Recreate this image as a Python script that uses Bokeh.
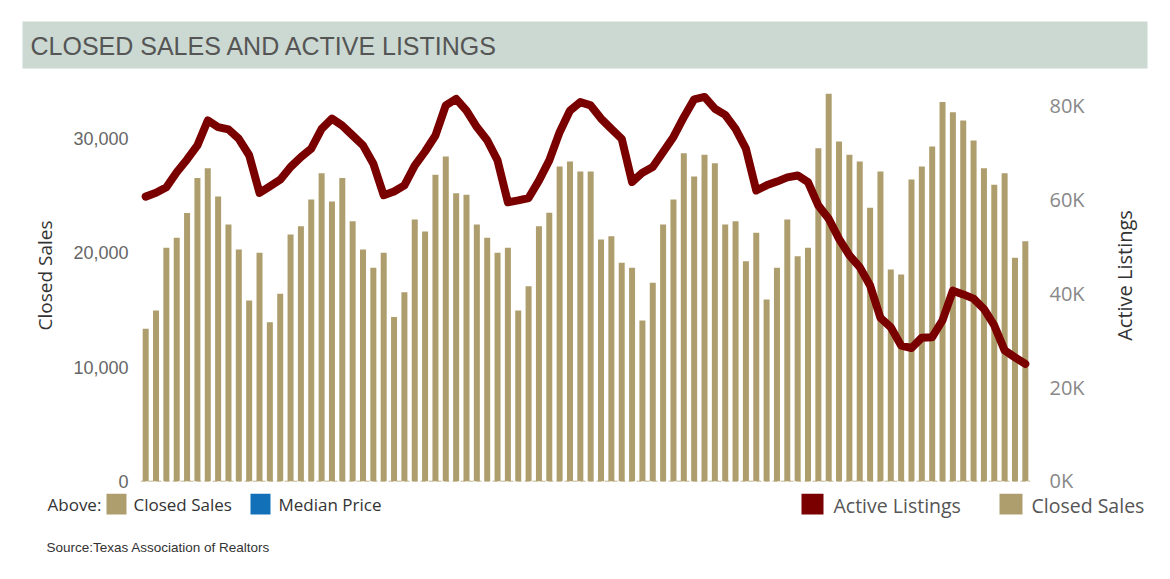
import math
from bokeh.plotting import figure
from bokeh.models import Range1d, LinearAxis, FixedTicker, NumeralTickFormatter, Span, FactorRange
from bokeh.layouts import column, row
from bokeh.core.properties import value
from bokeh.embed import file_html
from bokeh.resources import INLINE

# ---------------- data ----------------
years = [2016, 2017, 2018, 2019, 2020, 2021, 2022, 2023]
month_names = ["Jan", "Feb", "Mar", "Apr", "May", "Jun", "Jul", "Aug", "Sep", "Oct", "Nov", "Dec"]
months = [f"{m} {y}" for y in years for m in month_names][:86]

closed_sales = [
    13360, 14960, 20450, 21320, 23480, 26540, 27410, 24930, 22480, 20300, 15840, 20010,
    13940, 16420, 21610, 22340, 24670, 26970, 24500, 26540, 22770, 20300, 18700, 20010,
    14380, 16560, 22920, 21880, 26830, 28430, 25220, 25080, 22480, 21320, 20010, 20450,
    14960, 17090, 22340, 23510, 27560, 28000, 27120, 27120, 21170, 21460, 19130, 18700,
    14090, 17380, 22480, 24670, 28720, 26680, 28580, 27850, 22480, 22770, 19270, 21760,
    15920, 18700, 22920, 19710, 20450, 29160, 33920, 29750, 28580, 28000, 23950, 27120,
    18550, 18110, 26420, 27560, 29310, 33190, 32310, 31580, 29830, 27410, 25960, 26970,
    19570, 21020,
]

active_listings = [
    60600, 61400, 62600, 65800, 68500, 71500, 76800, 75400, 74900, 72900, 69400, 61400,
    62800, 64200, 66900, 69000, 70800, 75000, 77200, 75700, 73600, 71500, 67600, 60900,
    61700, 63000, 67200, 70200, 73600, 80000, 81400, 78900, 75400, 72600, 68300, 59400,
    59800, 60300, 64000, 68300, 74300, 78900, 80700, 80000, 77200, 75000, 72900, 63700,
    65700, 66900, 70100, 73300, 77500, 81300, 81800, 79300, 78000, 75000, 70800, 61900,
    63000, 63800, 64700, 65100, 63700, 58700, 55900, 51600, 48100, 45600, 41700, 34800,
    32800, 28900, 28400, 30600, 30700, 34300, 40600, 39800, 38900, 36700, 33200, 27900,
    26400, 25000,
]

left_ticks = [0, 10000, 20000, 30000]
right_ticks = [0, 20000, 40000, 60000, 80000]
right_tick_labels = ["0K", "20K", "40K", "60K", "80K"]

title_text = "CLOSED SALES AND ACTIVE LISTINGS"
left_title = "Closed Sales"
right_title = "Active Listings"
source_text = "Source:Texas Association of Realtors"

TAN = "#ae9e6e"
RED = "#7a0000"
BLUE = "#1170b8"
W = 1162
LW = 70          # left title strip
RW = 62          # right title strip
MW = W - LW - RW
MH = 415


def blank(width, height):
    f = figure(width=width, height=height, x_range=Range1d(0, width),
               y_range=Range1d(height, 0), output_backend="svg",
               toolbar_location=None, min_border=0)
    f.frame_align = False
    f.axis.visible = False
    f.grid.visible = False
    f.outline_line_color = None
    return f


# ---------------- title ----------------
pt = blank(W, 78)
pt.quad(left=[22], right=[1147], top=[21], bottom=[68], fill_color="#cbd9d2", line_color=None)
pt.text(x=[30], y=[45], text=[title_text], text_font=value("Liberation Sans"),
        text_font_size=value("25px"), text_color="#555555", text_baseline="middle")

# ---------------- axis title strips ----------------
pl = blank(LW, MH)
pl.text(x=[44], y=[197], text=[left_title], angle=math.pi / 2,
        text_font=value("Open Sans"), text_font_size=value("19px"), text_color="#333333",
        text_align="center", text_baseline="middle")

pr = blank(RW, MH)
pr.text(x=[24], y=[197], text=[right_title], angle=math.pi / 2,
        text_font=value("Open Sans"), text_font_size=value("20px"), text_color="#333333",
        text_align="center", text_baseline="middle")

# ---------------- main ----------------
p = figure(width=MW, height=MH, x_range=FactorRange(*months, range_padding=0),
           y_range=Range1d(0, 34380), output_backend="svg", toolbar_location=None,
           min_border_left=138 - LW, min_border_right=MW - (1030 - LW),
           min_border_top=10, min_border_bottom=12)
p.frame_align = False
p.extra_y_ranges = {"listings": Range1d(0, 83600)}
p.xaxis.visible = False
p.grid.visible = False
p.outline_line_color = None

p.vbar(x=months, top=closed_sales, width=0.58, fill_color=TAN, line_color=None)
p.line(x=months, y=active_listings, y_range_name="listings", line_color=RED,
       line_width=8, line_join="round", line_cap="round")

p.add_layout(Span(location=0, dimension="width", line_color=TAN, line_width=1.5,
                  line_dash="5 3"))

ya = p.yaxis[0]
ya.ticker = FixedTicker(ticks=left_ticks)
ya.formatter = NumeralTickFormatter(format="0,0")
ya.axis_line_color = None
ya.major_tick_line_color = None
ya.minor_tick_line_color = None
ya.major_label_standoff = 6
ya.major_label_text_font = "Liberation Sans"
ya.major_label_text_font_size = "18px"
ya.major_label_text_color = "#666666"

ra = LinearAxis(y_range_name="listings", ticker=FixedTicker(ticks=right_ticks),
                major_label_overrides=dict(zip(right_ticks, right_tick_labels)))
ra.axis_line_color = None
ra.major_tick_line_color = None
ra.minor_tick_line_color = None
ra.major_label_standoff = 13
ra.major_label_text_font = "Open Sans"
ra.major_label_text_font_size = "20px"
ra.major_label_text_color = "#888888"
p.add_layout(ra, "right")

# ---------------- footer ----------------
pf = blank(W, 72)
pf.quad(left=[106, 250, 801, 999], right=[126, 270, 823, 1022], top=[0, 0, 0, 0],
        bottom=[21, 21, 21, 21], fill_color=[TAN, BLUE, RED, TAN], line_color=None)
pf.text(x=[47, 133, 278], y=[11, 11, 11], text=["Above:", "Closed Sales", "Median Price"],
        text_font=value("Open Sans"), text_font_size=value("17px"), text_color="#333333",
        text_baseline="middle")
pf.text(x=[833, 1031], y=[12, 12], text=["Active Listings", "Closed Sales"],
        text_font=value("Open Sans"), text_font_size=value("19.5px"), text_color="#555555",
        text_baseline="middle")
pf.text(x=[46], y=[54], text=[source_text], text_font=value("Liberation Sans"),
        text_font_size=value("13.5px"), text_color="#333333", text_baseline="middle")

layout = column(pt, row(pl, p, pr, spacing=0), pf, spacing=0)
open("out.html", "w").write(file_html(layout, INLINE))
